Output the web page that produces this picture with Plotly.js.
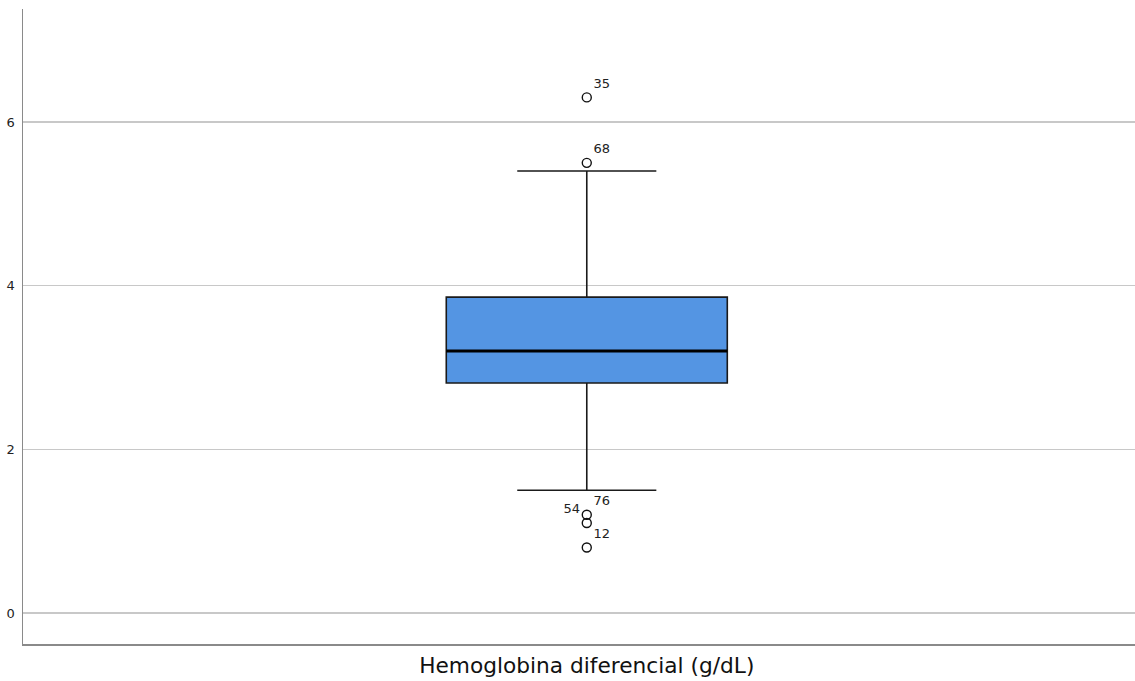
<!DOCTYPE html>
<html>
<head>
<meta charset="utf-8">
<script src="https://cdn.plot.ly/plotly-3.0.1.min.js"></script>
<style>html,body{margin:0;padding:0;background:#fff;}#chart{width:1135px;height:681px;}</style>
</head>
<body>
<div id="chart"></div>
<script>
const category = ['Hemoglobina diferencial (g/dL)'];
const q1 = [2.81];
const median = [3.2];
const q3 = [3.86];
const lowerFence = [1.5];
const upperFence = [5.4];
const outlierValues = [6.3, 5.5, 1.2, 1.1, 0.8];
const outlierIds = ['35', '68', '76', '54', '12'];
const outlierLabelSide = ['top right', 'top right', 'top right', 'top left', 'top right'];
const yTicks = [0, 2, 4, 6];

const boxTrace = {
  type: 'box',
  x: category,
  q1: q1, median: median, q3: q3,
  lowerfence: lowerFence, upperfence: upperFence,
  width: 0.2527,
  whiskerwidth: 0.495,
  fillcolor: '#5495e3',
  line: {color: '#1a1a1a', width: 1.6},
  boxpoints: false,
  hoverinfo: 'none',
  showlegend: false
};
const medianTrace = {
  type: 'box',
  x: category,
  q1: median, median: median, q3: median,
  lowerfence: median, upperfence: median,
  width: 0.2527,
  whiskerwidth: 0,
  fillcolor: 'rgba(0,0,0,0)',
  line: {color: '#000000', width: 3},
  boxpoints: false,
  hoverinfo: 'none',
  showlegend: false
};
const outlierTrace = {
  type: 'scatter',
  mode: 'markers+text',
  x: outlierValues.map(() => category[0]),
  y: outlierValues,
  text: outlierIds,
  textposition: outlierLabelSide,
  textfont: {family: 'DejaVu Sans', size: 13, color: '#222'},
  marker: {symbol: 'circle-open', size: 9, color: '#111', line: {width: 1.4, color: '#111'}},
  cliponaxis: false,
  hoverinfo: 'none',
  showlegend: false
};

const layout = {
  width: 1135, height: 681,
  margin: {l: 23, r: 0, t: 9, b: 37},
  paper_bgcolor: '#ffffff',
  plot_bgcolor: '#ffffff',
  boxmode: 'overlay',
  showlegend: false,
  font: {family: 'DejaVu Sans', color: '#222'},
  xaxis: {
    type: 'category',
    range: [-0.507, 0.493],
    showgrid: false,
    zeroline: false,
    showline: true,
    linecolor: '#8a8a8a',
    linewidth: 1.5,
    ticks: '',
    tickfont: {family: 'DejaVu Sans', size: 21.7, color: '#111'},
    ticklabelstandoff: 1
  },
  yaxis: {
    range: [-0.379, 7.38],
    tickvals: yTicks,
    ticktext: yTicks.map(String),
    showgrid: true,
    gridcolor: '#c8c8c8',
    gridwidth: 1.3,
    zeroline: false,
    showline: true,
    linecolor: '#8a8a8a',
    linewidth: 1.5,
    ticks: '',
    tickfont: {family: 'DejaVu Sans', size: 13, color: '#222'},
    ticklabelstandoff: 4
  }
};

Plotly.newPlot('chart', [boxTrace, medianTrace, outlierTrace], layout, {displayModeBar: false, staticPlot: true});
</script>
</body>
</html>
